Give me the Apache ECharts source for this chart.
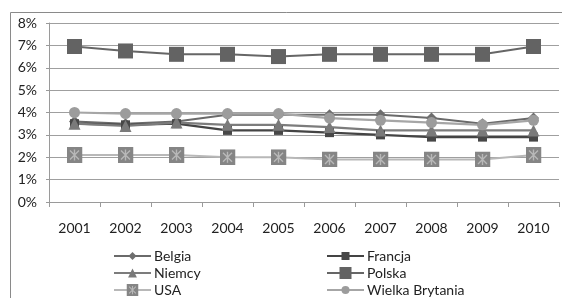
<!DOCTYPE html>
<html>
<head>
<meta charset="utf-8">
<script src="https://cdn.jsdelivr.net/npm/echarts@6/dist/echarts.min.js"></script>
<style>html,body{margin:0;padding:0;background:#fff}#c{width:562px;height:298px}</style>
</head>
<body>
<div id="c"></div>
<script>
const years = ['2001','2002','2003','2004','2005','2006','2007','2008','2009','2010'];
const yTicks = [0, 1, 2, 3, 4, 5, 6, 7, 8];
const belgia = [3.6, 3.5, 3.6, 3.9, 3.9, 3.9, 3.9, 3.75, 3.5, 3.75];
const francja = [3.5, 3.45, 3.5, 3.2, 3.2, 3.1, 3.0, 2.9, 2.9, 2.9];
const niemcy = [3.5, 3.4, 3.55, 3.45, 3.45, 3.35, 3.2, 3.2, 3.2, 3.2];
const polska = [6.95, 6.75, 6.6, 6.6, 6.5, 6.6, 6.6, 6.6, 6.6, 6.95];
const usa = [2.1, 2.1, 2.1, 2.0, 2.0, 1.9, 1.9, 1.9, 1.9, 2.1];
const wielkaBrytania = [4.0, 3.95, 3.95, 3.95, 3.95, 3.75, 3.65, 3.55, 3.45, 3.65];

const usaSvg = '<svg xmlns="http://www.w3.org/2000/svg" width="16" height="16"><rect width="16" height="16" fill="#858585"/><path d="M3.5 3.5L12.5 12.5M12.5 3.5L3.5 12.5M8 2.5V13.5" stroke="#b8b8b8" stroke-width="1.4" fill="none"/></svg>';
const usaSymbol = 'image://data:image/svg+xml;charset=utf-8,' + encodeURIComponent(usaSvg);

const FONT = 'Lato';
function mk(name, data, lineColor, symbol, size, symColor, lw) {
  return {
    name: name, type: 'line', data: data, symbol: symbol, symbolSize: size,
    lineStyle: {color: lineColor, width: lw},
    itemStyle: {color: symColor},
    emphasis: {disabled: true}, animation: false
  };
}
function lg(name, left, centerY, ih) {
  return {
    data: [name], orient: 'vertical', left: left, top: centerY - 8.5, itemGap: 0,
    itemWidth: 37, itemHeight: ih, padding: 0,
    textStyle: {fontSize: 14, color: '#222', fontFamily: FONT, padding: [0, 0, 0, -2], lineHeight: 17}
  };
}
const chart = echarts.init(document.getElementById('c'), null, {renderer: 'canvas'});
chart.setOption({
  animation: false,
  backgroundColor: '#fff',
  textStyle: {fontFamily: FONT},
  graphic: [{type: 'rect', shape: {x: 10.5, y: 12.5, width: 600, height: 320}, style: {fill: 'none', stroke: '#8a8a8a', lineWidth: 1}, silent: true}],
  grid: {left: 49, right: 3, top: 23, bottom: 96},
  xAxis: {
    type: 'category', data: years, boundaryGap: true,
    axisLine: {lineStyle: {color: '#9a9a9a', width: 1}},
    axisTick: {show: true, length: 5, lineStyle: {color: '#9a9a9a'}},
    axisLabel: {color: '#222', fontSize: 14, margin: 19, fontFamily: FONT}
  },
  yAxis: {
    type: 'value', min: 0, max: 8, interval: 1,
    axisLine: {show: true, lineStyle: {color: '#9a9a9a', width: 1}},
    axisTick: {show: true, length: 3, lineStyle: {color: '#9a9a9a'}},
    splitLine: {lineStyle: {color: '#9f9f9f', width: 1}},
    axisLabel: {color: '#222', fontSize: 14, margin: 12, fontFamily: FONT,
      formatter: function (v) { return yTicks.indexOf(v) >= 0 ? v + '%' : ''; }}
  },
  legend: [
    lg('Belgia', 113, 256, 10),
    lg('Niemcy', 113, 273, 11),
    lg('USA', 113, 290, 15),
    lg('Francja', 326, 256, 10),
    lg('Polska', 326, 273, 15),
    lg('Wielka Brytania', 326, 290, 10)
  ],
  series: [
    mk('Belgia', belgia, '#6a6a6a', 'diamond', 11, '#6e6e6e', 2),
    mk('Francja', francja, '#444444', 'rect', 9, '#474747', 2.2),
    mk('Niemcy', niemcy, '#7c7c7c', 'triangle', 12, '#7a7a7a', 2.2),
    mk('Polska', polska, '#666666', 'rect', 15, '#636363', 2),
    mk('USA', usa, '#b8b8b8', usaSymbol, 16, '#858585', 2.2),
    mk('Wielka Brytania', wielkaBrytania, '#a6a6a6', 'circle', 11, '#9c9c9c', 2.2)
  ]
});
</script>
</body>
</html>
